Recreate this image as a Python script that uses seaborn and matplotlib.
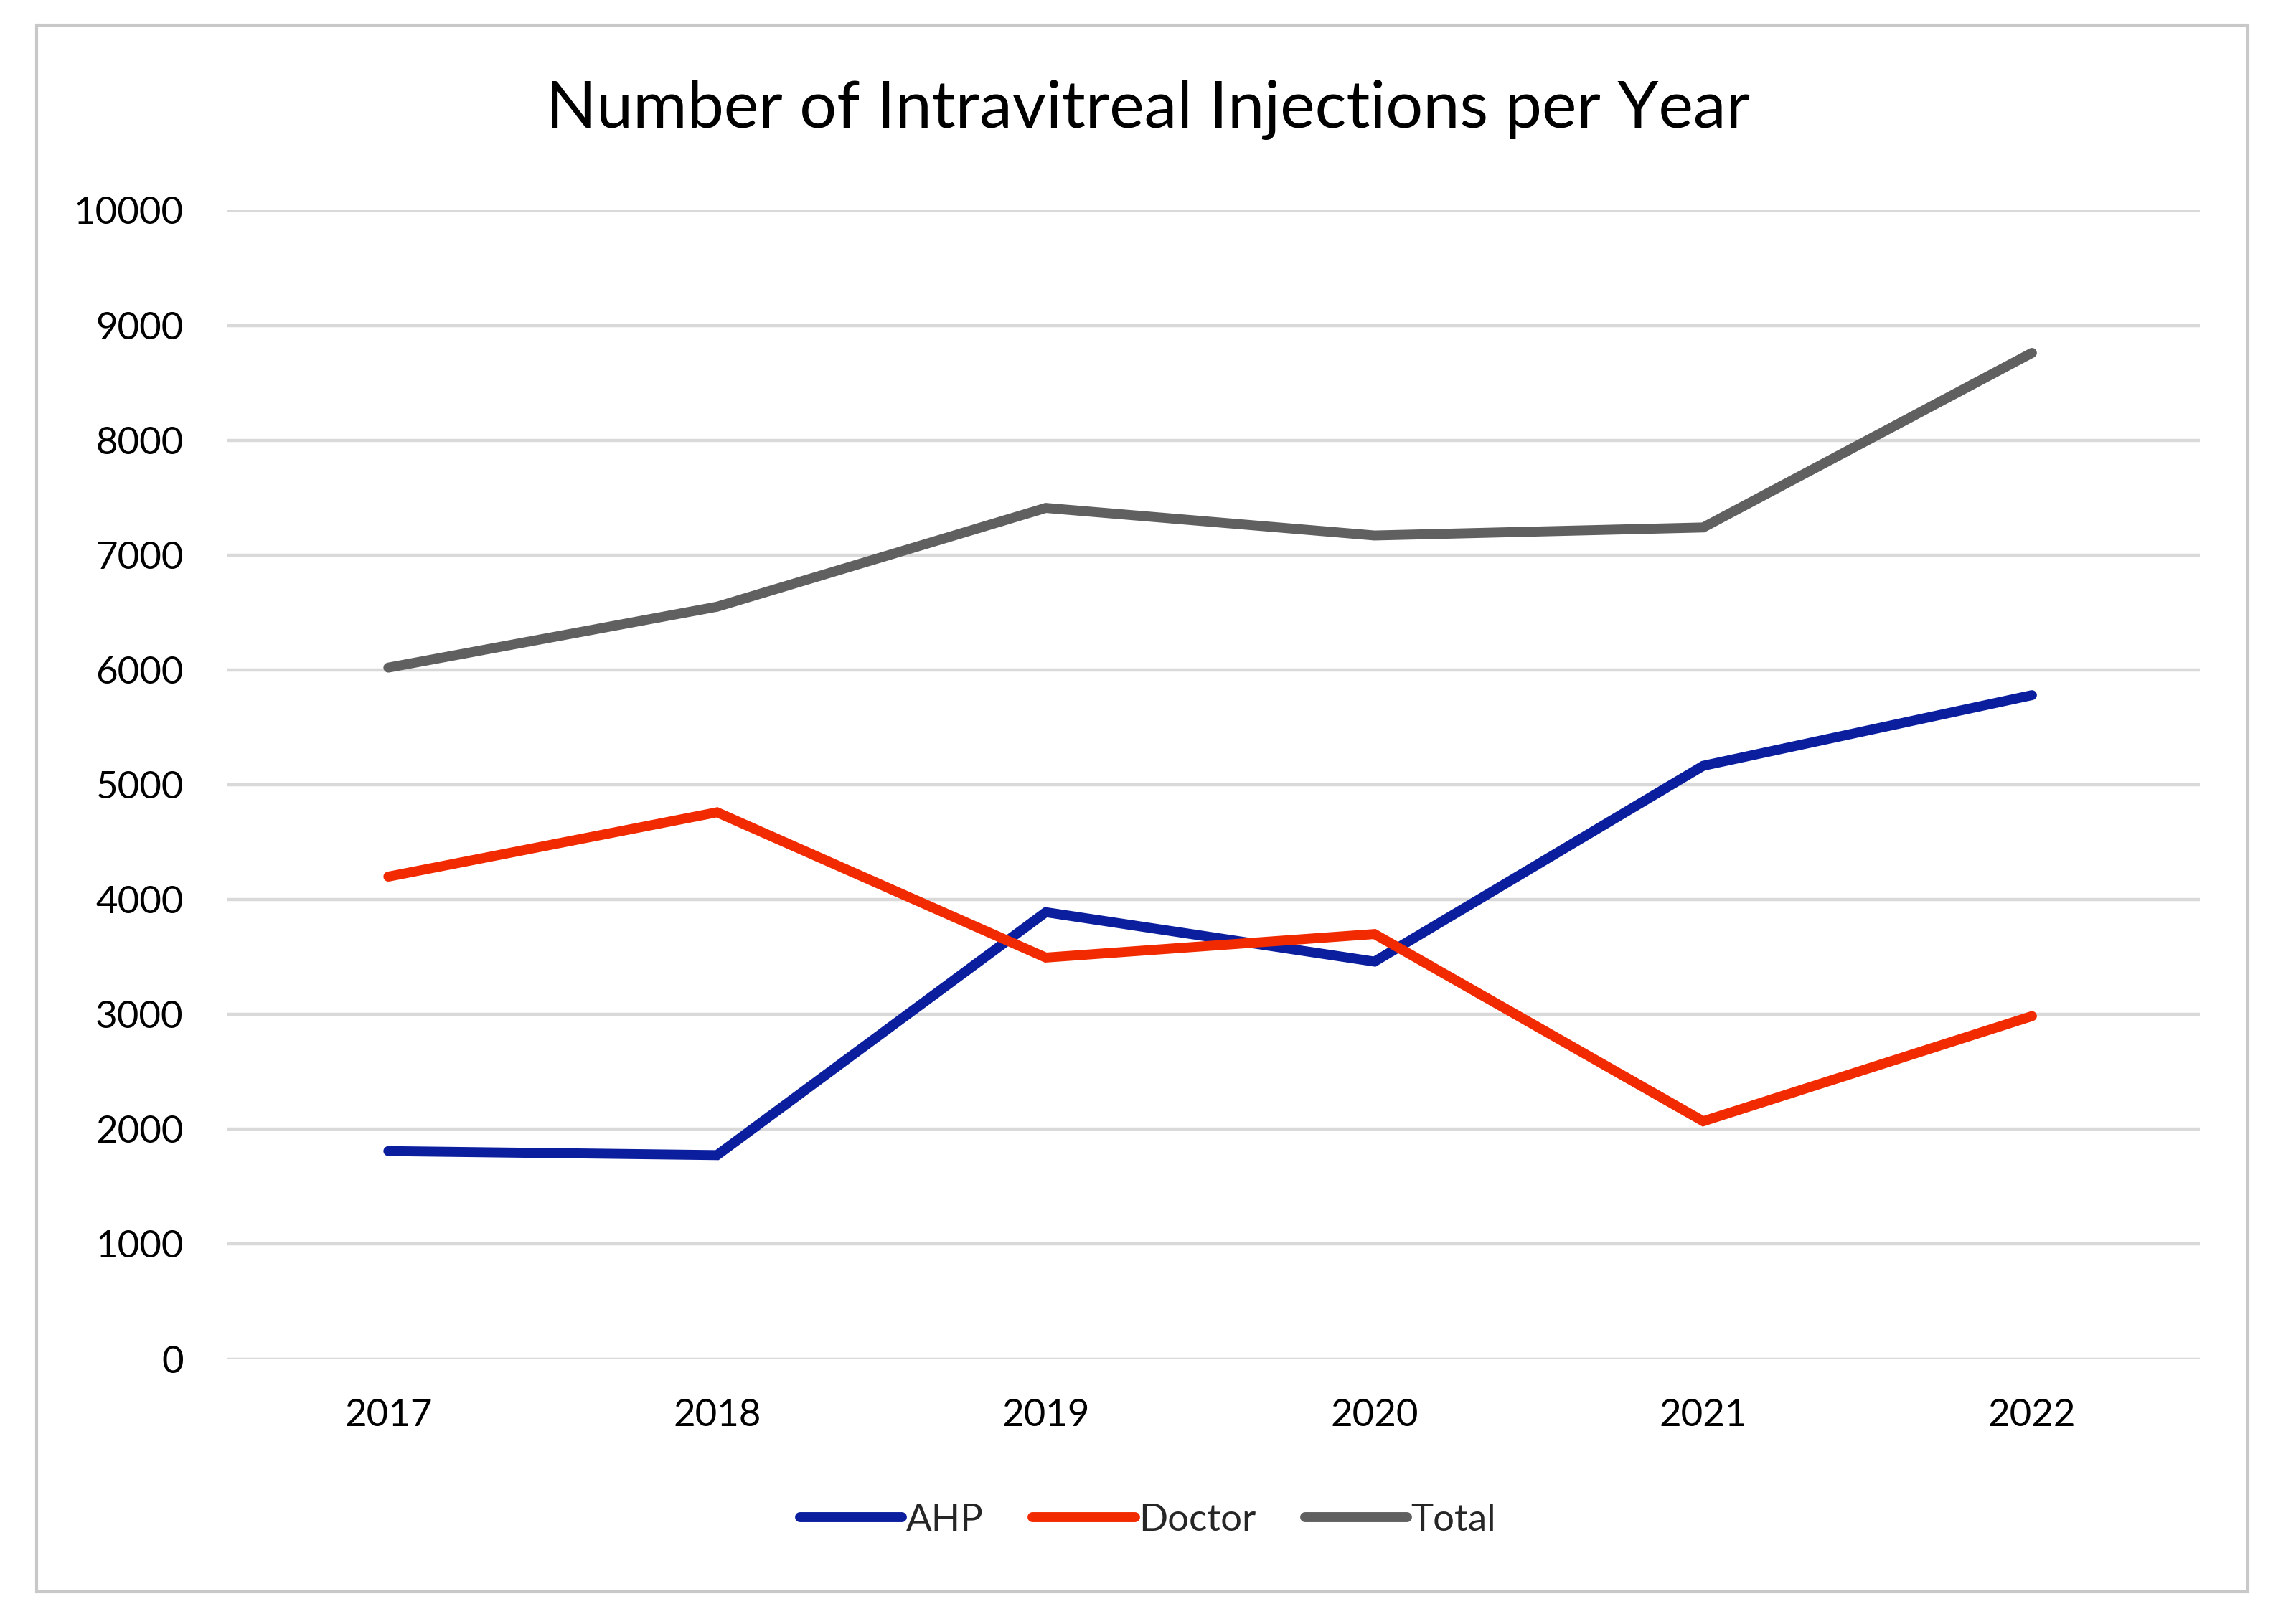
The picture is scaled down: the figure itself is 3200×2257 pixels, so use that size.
import seaborn as sns
import matplotlib.pyplot as plt
import matplotlib.patches as mpatches
import pandas as pd

# values
years = [2017, 2018, 2019, 2020, 2021, 2022]
ahp = [1810, 1775, 3890, 3460, 5165, 5780]
doctor = [4200, 4760, 3495, 3700, 2070, 2985]
total = [6020, 6550, 7410, 7170, 7240, 8760]
series_names = ["AHP", "Doctor", "Total"]
colors = ["#0A1E9E", "#F22A00", "#606060"]
y_ticks = [0, 1000, 2000, 3000, 4000, 5000, 6000, 7000, 8000, 9000, 10000]

sns.set_theme(style="white")
plt.rcParams["font.family"] = ["Lato", "DejaVu Sans"]

# long format for seaborn
df = pd.DataFrame({
    "year": years * 3,
    "value": ahp + doctor + total,
    "series": [s for s in series_names for _ in years],
})

fig = plt.figure(figsize=(16, 11.285), dpi=200)
ax = fig.add_axes([0.099, 0.1606, 0.859, 0.7094])

sns.lineplot(
    data=df, x="year", y="value", hue="series",
    hue_order=series_names, palette=colors,
    linewidth=5, ax=ax, legend=False,
)
for line in ax.lines:
    line.set_solid_capstyle("round")
    line.set_solid_joinstyle("miter")

ax.set_xlim(years[0] - 0.49, years[-1] + 0.51)
ax.set_ylim(0, 10000)
ax.set_xticks(years)
ax.set_xticklabels([str(y) for y in years])
ax.set_yticks(y_ticks)
ax.set_yticklabels([str(v) for v in y_ticks])
ax.set_xlabel("")
ax.set_ylabel("")

ax.grid(axis="y", color="#D9D9D9", linewidth=1.6)
ax.set_axisbelow(True)
for side in ["top", "right", "left", "bottom"]:
    ax.spines[side].set_visible(False)
ax.tick_params(axis="both", length=0, labelsize=19, colors="#000000")
ax.tick_params(axis="y", pad=22)
ax.tick_params(axis="x", pad=20)

fig.text(0.5, 0.932, "Number of Intravitreal Injections per Year",
         ha="center", va="center", fontsize=33, color="#000000")

handles = [plt.Line2D([], [], color=c, linewidth=5, solid_capstyle="round")
           for c in colors]
fig.legend(handles, series_names, loc="center", bbox_to_anchor=(0.5, 0.061),
           ncol=3, frameon=False, fontsize=19, handlelength=2.7,
           handletextpad=0.1, columnspacing=1.3)

# outer chart border
fig.patches.append(mpatches.Rectangle(
    (0.016, 0.0167), 0.963, 0.968, transform=fig.transFigure,
    fill=False, edgecolor="#C8C8C8", linewidth=1.5))

fig.savefig("out.png", dpi=200, facecolor="white")
